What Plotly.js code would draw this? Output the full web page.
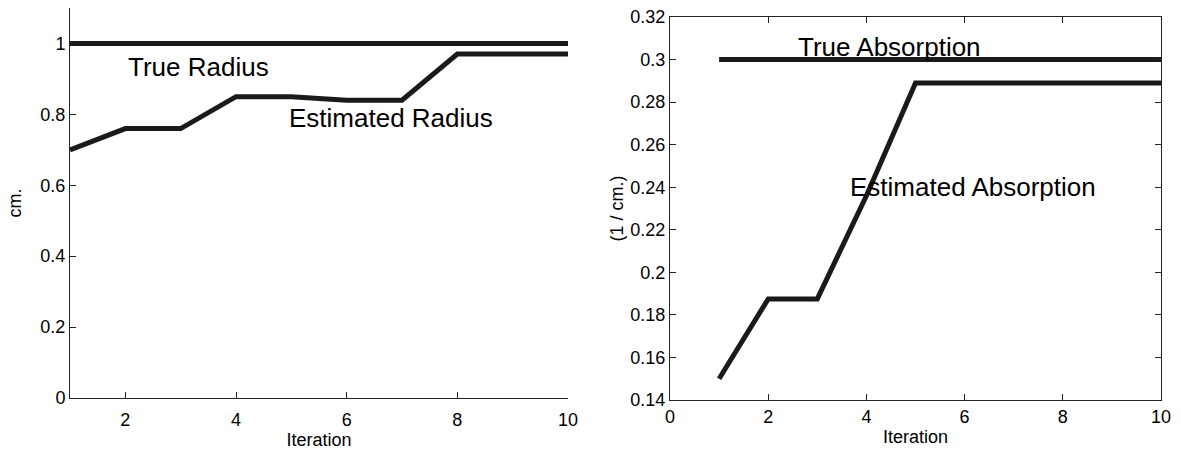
<!DOCTYPE html>
<html>
<head>
<meta charset="utf-8">
<script src="https://cdn.plot.ly/plotly-3.0.1.min.js"></script>
<style>html,body{margin:0;padding:0;background:#fff;}#chart{width:1181px;height:459px;}</style>
</head>
<body>
<div id="chart"></div>
<script>
const iterations = [1, 2, 3, 4, 5, 6, 7, 8, 9, 10];
const trueRadius = [1, 1, 1, 1, 1, 1, 1, 1, 1, 1];
const estRadius = [0.70, 0.76, 0.76, 0.85, 0.85, 0.84, 0.84, 0.97, 0.97, 0.97];
const trueAbsorption = [0.30, 0.30, 0.30, 0.30, 0.30, 0.30, 0.30, 0.30, 0.30, 0.30];
const estAbsorption = [0.150, 0.1875, 0.1875, 0.236, 0.289, 0.289, 0.289, 0.289, 0.289, 0.289];
const leftYTicks = [0, 0.2, 0.4, 0.6, 0.8, 1];
const leftYLabels = ['0', '0.2', '0.4', '0.6', '0.8', '1'];
const leftXTicks = [2, 4, 6, 8, 10];
const rightYTicks = [0.14, 0.16, 0.18, 0.2, 0.22, 0.24, 0.26, 0.28, 0.3, 0.32];
const rightYLabels = ['0.14', '0.16', '0.18', '0.2', '0.22', '0.24', '0.26', '0.28', '0.3', '0.32'];
const rightXTicks = [0, 2, 4, 6, 8, 10];

const lineStyle = {color: '#1a1a1a', width: 5};
const FONT = 'Liberation Sans, Arial, Helvetica, sans-serif';

const traces = [
  {x: iterations, y: trueRadius, mode: 'lines', line: lineStyle, xaxis: 'x', yaxis: 'y', hoverinfo: 'skip'},
  {x: iterations, y: estRadius, mode: 'lines', line: lineStyle, xaxis: 'x', yaxis: 'y', hoverinfo: 'skip'},
  {x: iterations, y: trueAbsorption, mode: 'lines', line: lineStyle, xaxis: 'x2', yaxis: 'y2', hoverinfo: 'skip'},
  {x: iterations, y: estAbsorption, mode: 'lines', line: lineStyle, xaxis: 'x2', yaxis: 'y2', hoverinfo: 'skip'}
];

const axBase = {
  showgrid: false, zeroline: false, showline: true, linecolor: '#222', linewidth: 1,
  ticks: 'inside', ticklen: 6, tickcolor: '#222', tickwidth: 1,
  tickfont: {family: FONT, size: 18, color: '#000'}
};

const layout = {
  width: 1181, height: 459,
  margin: {l: 0, r: 0, t: 0, b: 0},
  paper_bgcolor: '#fff', plot_bgcolor: '#fff',
  showlegend: false,
  font: {family: FONT, color: '#000'},
  xaxis: Object.assign({}, axBase, {
    domain: [70/1181, 568/1181], range: [1, 10], anchor: 'y',
    tickmode: 'array', tickvals: leftXTicks, ticklabelstandoff: 5,
    title: {text: 'Iteration', font: {family: FONT, size: 18}, standoff: 2}
  }),
  yaxis: Object.assign({}, axBase, {
    domain: [1 - 398/459, 1 - 8/459], range: [0, 1.1], anchor: 'x',
    tickmode: 'array', tickvals: leftYTicks, ticktext: leftYLabels,
    title: {text: 'cm.', font: {family: FONT, size: 18}, standoff: 14}
  }),
  xaxis2: Object.assign({}, axBase, {
    domain: [670/1181, 1161/1181], range: [0, 10], anchor: 'y2', mirror: 'ticks',
    tickmode: 'array', tickvals: rightXTicks,
    title: {text: 'Iteration', font: {family: FONT, size: 18}, standoff: 4}
  }),
  yaxis2: Object.assign({}, axBase, {
    domain: [1 - 400/459, 1 - 17/459], range: [0.14, 0.32], anchor: 'x2', mirror: 'ticks',
    tickmode: 'array', tickvals: rightYTicks, ticktext: rightYLabels,
    title: {text: '(1 / cm.)', font: {family: FONT, size: 18}, standoff: 2}
  }),
  annotations: [
    {text: 'True Radius', x: 2.02, y: 0.935, xref: 'x', yref: 'y', xanchor: 'left', yanchor: 'middle', showarrow: false, font: {family: FONT, size: 26, color: '#000'}},
    {text: 'Estimated Radius', x: 4.93, y: 0.79, xref: 'x', yref: 'y', xanchor: 'left', yanchor: 'middle', showarrow: false, font: {family: FONT, size: 26, color: '#000'}},
    {text: 'True Absorption', x: 2.56, y: 0.3057, xref: 'x2', yref: 'y2', xanchor: 'left', yanchor: 'middle', showarrow: false, font: {family: FONT, size: 26, color: '#000'}},
    {text: 'Estimated Absorption', x: 3.62, y: 0.24, xref: 'x2', yref: 'y2', xanchor: 'left', yanchor: 'middle', showarrow: false, font: {family: FONT, size: 26, color: '#000'}}
  ]
};

Plotly.newPlot('chart', traces, layout, {displayModeBar: false, staticPlot: true});
</script>
</body>
</html>
